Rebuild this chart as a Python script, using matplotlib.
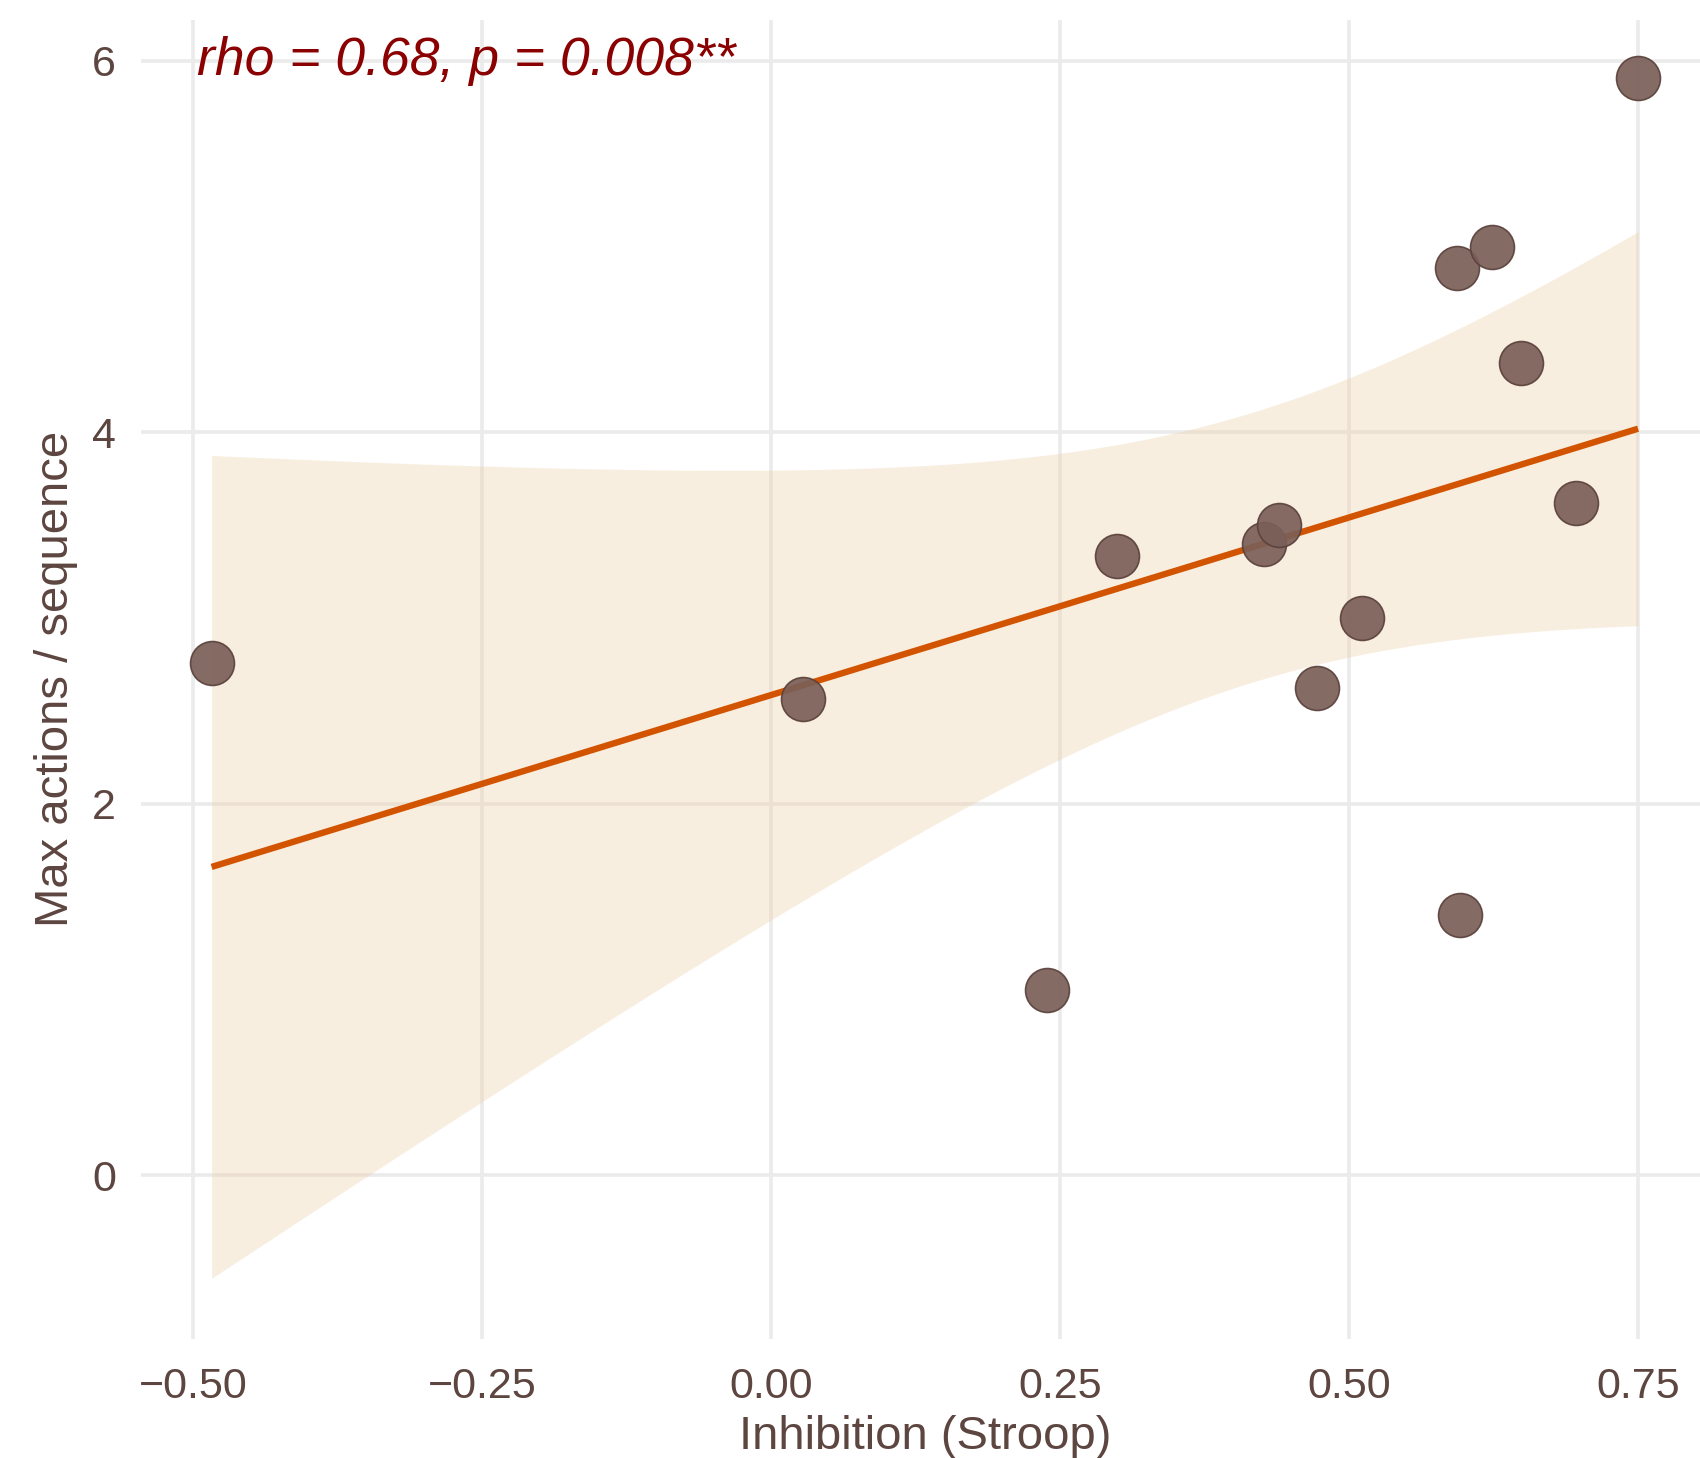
import numpy as np
import matplotlib
matplotlib.use("Agg")
import matplotlib.pyplot as plt
from matplotlib.ticker import FixedLocator, FuncFormatter

# ---- data ----
stroop = [-0.484, 0.028, 0.239, 0.299, 0.426, 0.439, 0.472, 0.511,
          0.593, 0.624, 0.596, 0.649, 0.696, 0.750]
max_actions = [2.755, 2.566, 0.997, 3.331, 3.396, 3.499, 2.624, 3.000,
               4.885, 4.998, 1.401, 4.370, 3.619, 5.908]
x_ticks = [-0.50, -0.25, 0.00, 0.25, 0.50, 0.75]
y_ticks = [0, 2, 4, 6]
annotation = "rho = 0.68, p = 0.008**"
x_label = "Inhibition (Stroop)"
y_label = "Max actions / sequence"

# ---- linear fit with 95% confidence band (like geom_smooth(method='lm')) ----
x = np.asarray(stroop)
y = np.asarray(max_actions)
n = len(x)
slope, intercept = np.polyfit(x, y, 1)
resid = y - (intercept + slope * x)
s_err = np.sqrt(np.sum(resid ** 2) / (n - 2))
t_crit = 2.1788  # t(0.975, df=12)
xs = np.linspace(x.min(), x.max(), 200)
ys = intercept + slope * xs
se = s_err * np.sqrt(1.0 / n + (xs - x.mean()) ** 2 / np.sum((x - x.mean()) ** 2))
lo = ys - t_crit * se
hi = ys + t_crit * se

plt.rcParams['font.family'] = ['Liberation Sans', 'DejaVu Sans']

fig = plt.figure(figsize=(17, 14.58), dpi=100)
ax = fig.add_axes([0.083, 0.0816, 0.9224, 0.905])
ax.set_xlim(-0.545, 0.8115)
ax.set_ylim(-0.883, 6.222)

for s in ax.spines.values():
    s.set_visible(False)

ax.xaxis.set_major_locator(FixedLocator(x_ticks))
ax.yaxis.set_major_locator(FixedLocator(y_ticks))
ax.xaxis.set_major_formatter(FuncFormatter(lambda v, p: f"{v:.2f}".replace("-", "\u2212")))
ax.yaxis.set_major_formatter(FuncFormatter(lambda v, p: f"{v:.0f}"))
ax.grid(True, color='#ebebeb', linewidth=2.6, zorder=0)
ax.set_axisbelow(True)

text_col = '#5d4540'
ax.tick_params(axis='both', length=0, labelsize=31, colors=text_col)
ax.tick_params(axis='x', pad=20)
ax.tick_params(axis='y', pad=18)

ax.fill_between(xs, lo, hi, color='#ebc79a', alpha=0.3, linewidth=0, zorder=1)
ax.plot(xs, ys, color='#d35400', linewidth=4.6, zorder=2, solid_capstyle='butt')
ax.scatter(x, y, s=1000, color='#7a5f58', edgecolors='#5a413b', linewidths=1.2,
           alpha=0.92, zorder=3)

ax.text(-0.497, 6.0, annotation, color='#8b0000', fontsize=38.5, style='italic',
        ha='left', va='center', zorder=4)

ax.set_xlabel(x_label, fontsize=34, color=text_col, labelpad=6)
ax.set_ylabel(y_label, fontsize=34, color=text_col, labelpad=10)

fig.savefig("out.png", dpi=100)
